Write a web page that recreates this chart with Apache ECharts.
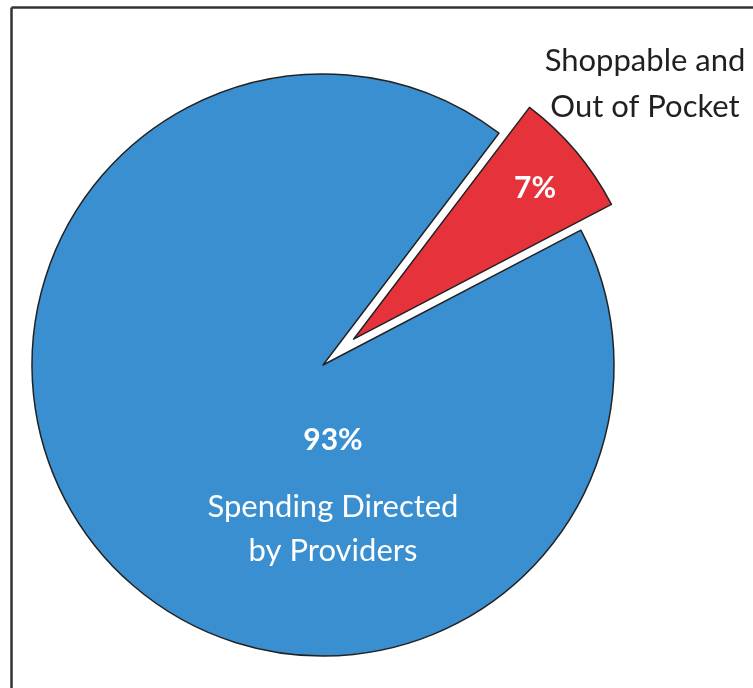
<!DOCTYPE html>
<html>
<head>
<meta charset="utf-8">
<script src="https://cdn.jsdelivr.net/npm/echarts@6/dist/echarts.min.js"></script>
<style>
  html, body { margin: 0; padding: 0; background: #ffffff; }
  #chart { width: 753px; height: 688px; }
</style>
</head>
<body>
<div id="chart"></div>
<script>
// Share of health spending by who directs it
const categories = ['Shoppable and\nOut of Pocket', 'Spending Directed\nby Providers'];
const shares = [7, 93];
const sliceColors = ['#e6323a', '#3a8fd0'];

const FONT = 'Lato, "Open Sans", sans-serif';

const chart = echarts.init(document.getElementById('chart'), null, { renderer: 'canvas' });

const option = {
  animation: false,
  backgroundColor: '#ffffff',
  graphic: [
    // frame lines along the top and left edges
    { type: 'line', shape: { x1: 11.5, y1: 7.5, x2: 760, y2: 7.5 },
      style: { stroke: '#333333', lineWidth: 2.5 }, z: 10 },
    { type: 'line', shape: { x1: 11.5, y1: 7.5, x2: 11.5, y2: 700 },
      style: { stroke: '#333333', lineWidth: 2.5 }, z: 10 },
    // outside name of the pulled-out slice
    { type: 'text', x: 645, y: 84, z: 20,
      style: {
        text: categories[0],
        fill: '#231f20',
        font: '31px ' + FONT,
        align: 'center',
        verticalAlign: 'middle',
        lineHeight: 46
      } },
    // share printed on the pulled-out slice
    { type: 'text', x: 535, y: 188, z: 20,
      style: {
        text: shares[0] + '%',
        fill: '#ffffff',
        font: 'bold 30px ' + FONT,
        align: 'center',
        verticalAlign: 'middle'
      } }
  ],
  series: [{
    type: 'pie',
    center: [323, 365],
    radius: 291,
    startAngle: 52.8,
    clockwise: true,
    selectedMode: 'single',
    selectedOffset: 40,
    avoidLabelOverlap: false,
    emphasis: { disabled: true },
    itemStyle: { borderColor: '#222222', borderWidth: 1.5 },
    labelLine: { show: false },
    label: {
      show: true,
      position: 'inside',
      color: '#ffffff',
      fontFamily: FONT,
      formatter: function (p) {
        return '{p|' + p.value + '%}\n{n|' + p.name + '}';
      },
      rich: {
        p: { fontSize: 30, fontWeight: 'bold', color: '#ffffff', fontFamily: FONT, lineHeight: 90 },
        n: { fontSize: 31, color: '#ffffff', fontFamily: FONT, lineHeight: 44 }
      }
    },
    labelLayout: function (params) {
      return { x: 333, y: 484, align: 'center', verticalAlign: 'middle' };
    },
    data: categories.map(function (name, i) {
      return {
        name: name,
        value: shares[i],
        selected: i === 0,
        itemStyle: { color: sliceColors[i] },
        label: { show: i === 1 }
      };
    })
  }]
};

chart.setOption(option);
</script>
</body>
</html>
